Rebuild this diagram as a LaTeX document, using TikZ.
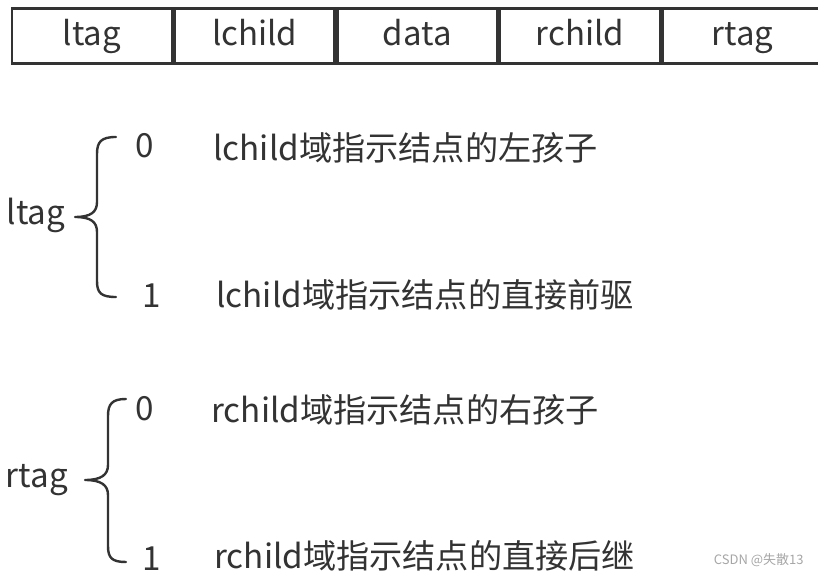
\documentclass[tikz,border=0pt]{standalone}
\usepackage{fontspec}
\setmainfont{Noto Sans CJK SC}
\usetikzlibrary{positioning}

\definecolor{ink}{HTML}{333333}

\begin{document}
\begin{tikzpicture}[x=0.5pt,y=-0.5pt,
  cell/.style={draw=ink,line width=1.3pt,minimum width=80pt,minimum height=27.5pt,
    inner sep=0pt,text height=1.05em,text depth=0.05em,font=\fontsize{16.5}{19}\selectfont,text=ink},
  txt/.style={inner sep=0pt,font=\fontsize{16.6}{19}\selectfont,text=ink},
  curly/.style={draw=ink,line width=1.2pt,line cap=round,line join=round}]
 \useasboundingbox (0,0) rectangle (818,576);
 % the node record
 \node[cell] (ltag) at (92,36) {ltag};
 \node[cell,right=0pt of ltag] (lchild) {lchild};
 \node[cell,right=0pt of lchild] (data) {data};
 \node[cell,right=0pt of data] (rchild) {rchild};
 \node[cell,right=0pt of rchild] (rtag) {rtag};
 % ltag
 \node[txt] (lname) at (36,215) {ltag};
 \node[txt] (lzero) at (145,146) {0};
 \node[txt] (lone) at (152,296) {1};
 \node[txt,anchor=west] (lzerotxt) at (213,148) {lchild域指示结点的左孩子};
 \node[txt,anchor=west] (lonetxt) at (216,295) {lchild域指示结点的直接前驱};
 \draw[curly] (116,137) .. controls (101,137) and (97,142) .. (97,154) -- (97,202)
   .. controls (97,212) and (91,217) .. (75,217)
   .. controls (91,217) and (97,222) .. (97,232) -- (97,281)
   .. controls (97,293) and (101,297) .. (116,297);
 % rtag
 \node[txt] (rname) at (37,480) {rtag};
 \node[txt] (rzero) at (145,409) {0};
 \node[txt] (rone) at (152,559) {1};
 \node[txt,anchor=west] (rzerotxt) at (211,410) {rchild域指示结点的右孩子};
 \node[txt,anchor=west] (ronetxt) at (214,556) {rchild域指示结点的直接后继};
 \draw[curly] (126,399) .. controls (112,399) and (108,404) .. (108,416) -- (108,465)
   .. controls (108,475) and (101,480) .. (85,480)
   .. controls (101,480) and (108,485) .. (108,495) -- (108,546)
   .. controls (108,558) and (112,562) .. (126,562);
 % watermark
 \node[inner sep=0pt,text=gray!70,font=\fontsize{6.5}{8}\selectfont,anchor=east] (mark) at (804,560) {CSDN @失散13};
\end{tikzpicture}
\end{document}
